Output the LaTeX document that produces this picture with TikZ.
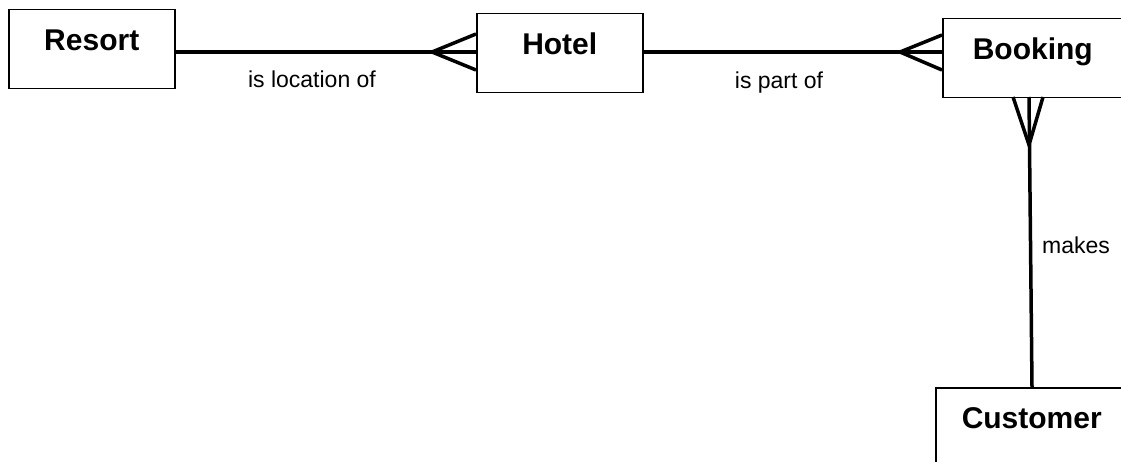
\documentclass[tikz,border=0pt]{standalone}
\usepackage{fontspec}
\setmainfont{Liberation Sans}
\begin{document}
\begin{tikzpicture}[x=1pt,y=-1pt,
  entity/.style={draw=black, line width=1.5pt, anchor=north west, inner xsep=0pt, inner ysep=0pt,
    text height=41pt, text depth=38pt, font=\fontsize{30}{30}\selectfont\bfseries},
  rel/.style={line width=3.5pt, line join=miter},
  lbl/.style={anchor=base, inner sep=0pt, font=\fontsize{23}{23}\selectfont}]
\useasboundingbox (0,0) rectangle (1121,462);
\clip (0,0) rectangle (1121,462);
\node[entity, minimum width=166pt] (resort) at (8,9) {Resort};
\node[entity, minimum width=166pt] (hotel) at (476,13) {Hotel};
\node[entity, minimum width=180pt] (booking) at (942,18) {Booking};
\node[entity, minimum width=192pt] (customer) at (935,387) {Customer};
% Resort - Hotel
\draw[rel] (resort.east |- 0,52) -- (hotel.west |- 0,52);
\draw[rel] (hotel.west |- 0,34) -- (432,52) -- (hotel.west |- 0,70);
% Hotel - Booking
\draw[rel] (hotel.east |- 0,52) -- (booking.west |- 0,52);
\draw[rel] (booking.west |- 0,35) -- (900,52) -- (booking.west |- 0,70);
% Booking - Customer
\coordinate (bc) at (1029,97);
\draw[rel] (bc) -- (customer.north -| 1032,0);
\draw[rel] (1013,97) -- (1029,145) -- (1043,97);
% labels
\node[lbl] (l1) at (312,88) {is location of};
\node[lbl] (l2) at (779,89) {is part of};
\node[lbl] (l3) at (1076,254) {makes};
\end{tikzpicture}
\end{document}
